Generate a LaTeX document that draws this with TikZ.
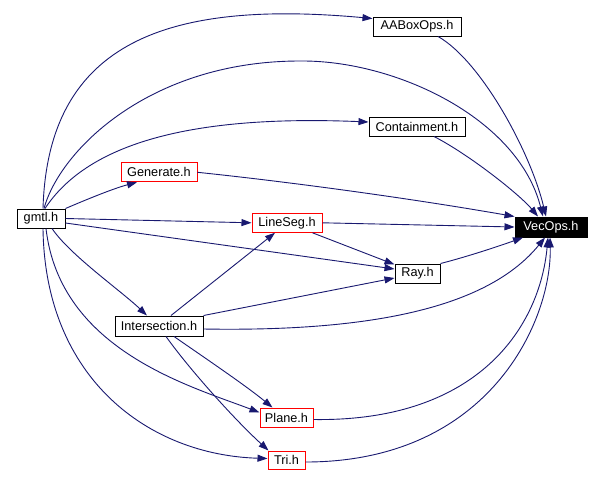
\documentclass[tikz,border=0pt]{standalone}
\usepackage{fontspec}
\setmainfont{Liberation Sans}
\usetikzlibrary{arrows.meta}
\definecolor{edgeblue}{HTML}{191970}
\definecolor{boxred}{HTML}{FF0000}
\tikzset{
  filebox/.style={draw=black, line width=1pt, inner sep=0pt, font=\fontsize{12.7}{15}\selectfont, text=black},
  redbox/.style={filebox, draw=boxred},
  blackbox/.style={filebox, fill=black, text=white},
  dep/.style={draw=edgeblue, line width=0.9pt, -{Triangle[length=10pt,width=7pt]}}
}
\begin{document}
\begin{tikzpicture}[x=1pt,y=-1pt]
\useasboundingbox (0,0) rectangle (604,488);
\fill[white] (0,0) rectangle (604,488);
% nodes
\node[filebox, minimum width=48pt, minimum height=19pt] (gmtl) at (41,218.5) {gmtl.h};
\node[redbox, minimum width=76pt, minimum height=19pt] (gen) at (159,172.3) {Generate.h};
\node[redbox, minimum width=70pt, minimum height=19pt] (lseg) at (287,222.8) {LineSeg.h};
\node[filebox, minimum width=88pt, minimum height=19pt] (aabox) at (417,26.5) {AABoxOps.h};
\node[filebox, minimum width=96pt, minimum height=19pt] (cont) at (417,126.5) {Containment.h};
\node[blackbox, minimum width=72pt, minimum height=20pt] (vec) at (551,227) {VecOps.h};
\node[filebox, minimum width=45pt, minimum height=19pt] (ray) at (417.5,273.5) {Ray.h};
\node[filebox, minimum width=88pt, minimum height=20pt] (inter) at (159,326) {Intersection.h};
\node[redbox, minimum width=53pt, minimum height=19pt] (plane) at (286.5,417.5) {Plane.h};
\node[redbox, minimum width=37pt, minimum height=18pt] (tri) at (286.5,460) {Tri.h};
% edges from gmtl
\draw[dep] ([xshift=2pt]gmtl.north) .. controls (48,40) and (170,0) .. ([yshift=-2pt]aabox.north west);
\draw[dep] ([xshift=3pt]gmtl.north) .. controls (60,150) and (150,61) .. (300,61) .. controls (395,60) and (518,118) .. ([xshift=-8pt]vec.north);
\draw[dep] ([xshift=4pt]gmtl.north) .. controls (90,140) and (200,115) .. ([yshift=4.5pt]cont.west);
\draw[dep] (gmtl.north east) .. controls (90,198) and (115,188) .. ([xshift=-22pt]gen.south);
\draw[dep] (gmtl.east) -- (lseg.west);
\draw[dep] ([yshift=-4.5pt]gmtl.east) -- ([yshift=4.5pt]ray.west);
\draw[dep] ([xshift=11pt]gmtl.south) .. controls (70,255) and (120,290) .. ([xshift=-12pt]inter.north);
\draw[dep] ([xshift=5pt]gmtl.south) .. controls (60,350) and (190,386) .. ([yshift=-5pt]plane.north west);
\draw[dep] ([xshift=2pt]gmtl.south) .. controls (45,380) and (150,455) .. ([yshift=-8pt]tri.north west);
% other edges
\draw[dep] (gen.east) .. controls (300,183) and (420,200) .. (vec.north west);
\draw[dep] (lseg.east) -- (vec.west);
\draw[dep] ([xshift=-10pt]lseg.south east) -- ([yshift=-1pt]ray.north west);
\draw[dep] (ray.north east) .. controls (470,256) and (505,244) .. ([xshift=-28pt]vec.south);
\draw[dep] ([xshift=12pt]inter.north) -- ([xshift=-12pt]lseg.south);
\draw[dep] (inter.north east) -- ([yshift=-4.5pt]ray.west);
\draw[dep] ([yshift=-3pt]inter.east) .. controls (380,332) and (490,305) .. ([xshift=-6pt]vec.south);
\draw[dep] ([xshift=15pt]inter.south) .. controls (205,358) and (245,385) .. ([xshift=-14pt]plane.north);
\draw[dep] ([xshift=7pt]inter.south) .. controls (190,370) and (235,420) .. ([xshift=-18pt]tri.north);
\draw[dep] ([yshift=-2pt]plane.east) .. controls (480,422) and (540,325) .. ([xshift=-3pt]vec.south);
\draw[dep] ([yshift=-2pt]tri.east) .. controls (490,462) and (552,320) .. ([xshift=-1pt]vec.south);
\draw[dep] ([xshift=21pt]aabox.south) .. controls (480,60) and (530,150) .. ([xshift=-5pt]vec.north);
\draw[dep] ([xshift=17pt]cont.south) .. controls (470,155) and (520,195) .. ([xshift=-13pt]vec.north);
\end{tikzpicture}
\end{document}
